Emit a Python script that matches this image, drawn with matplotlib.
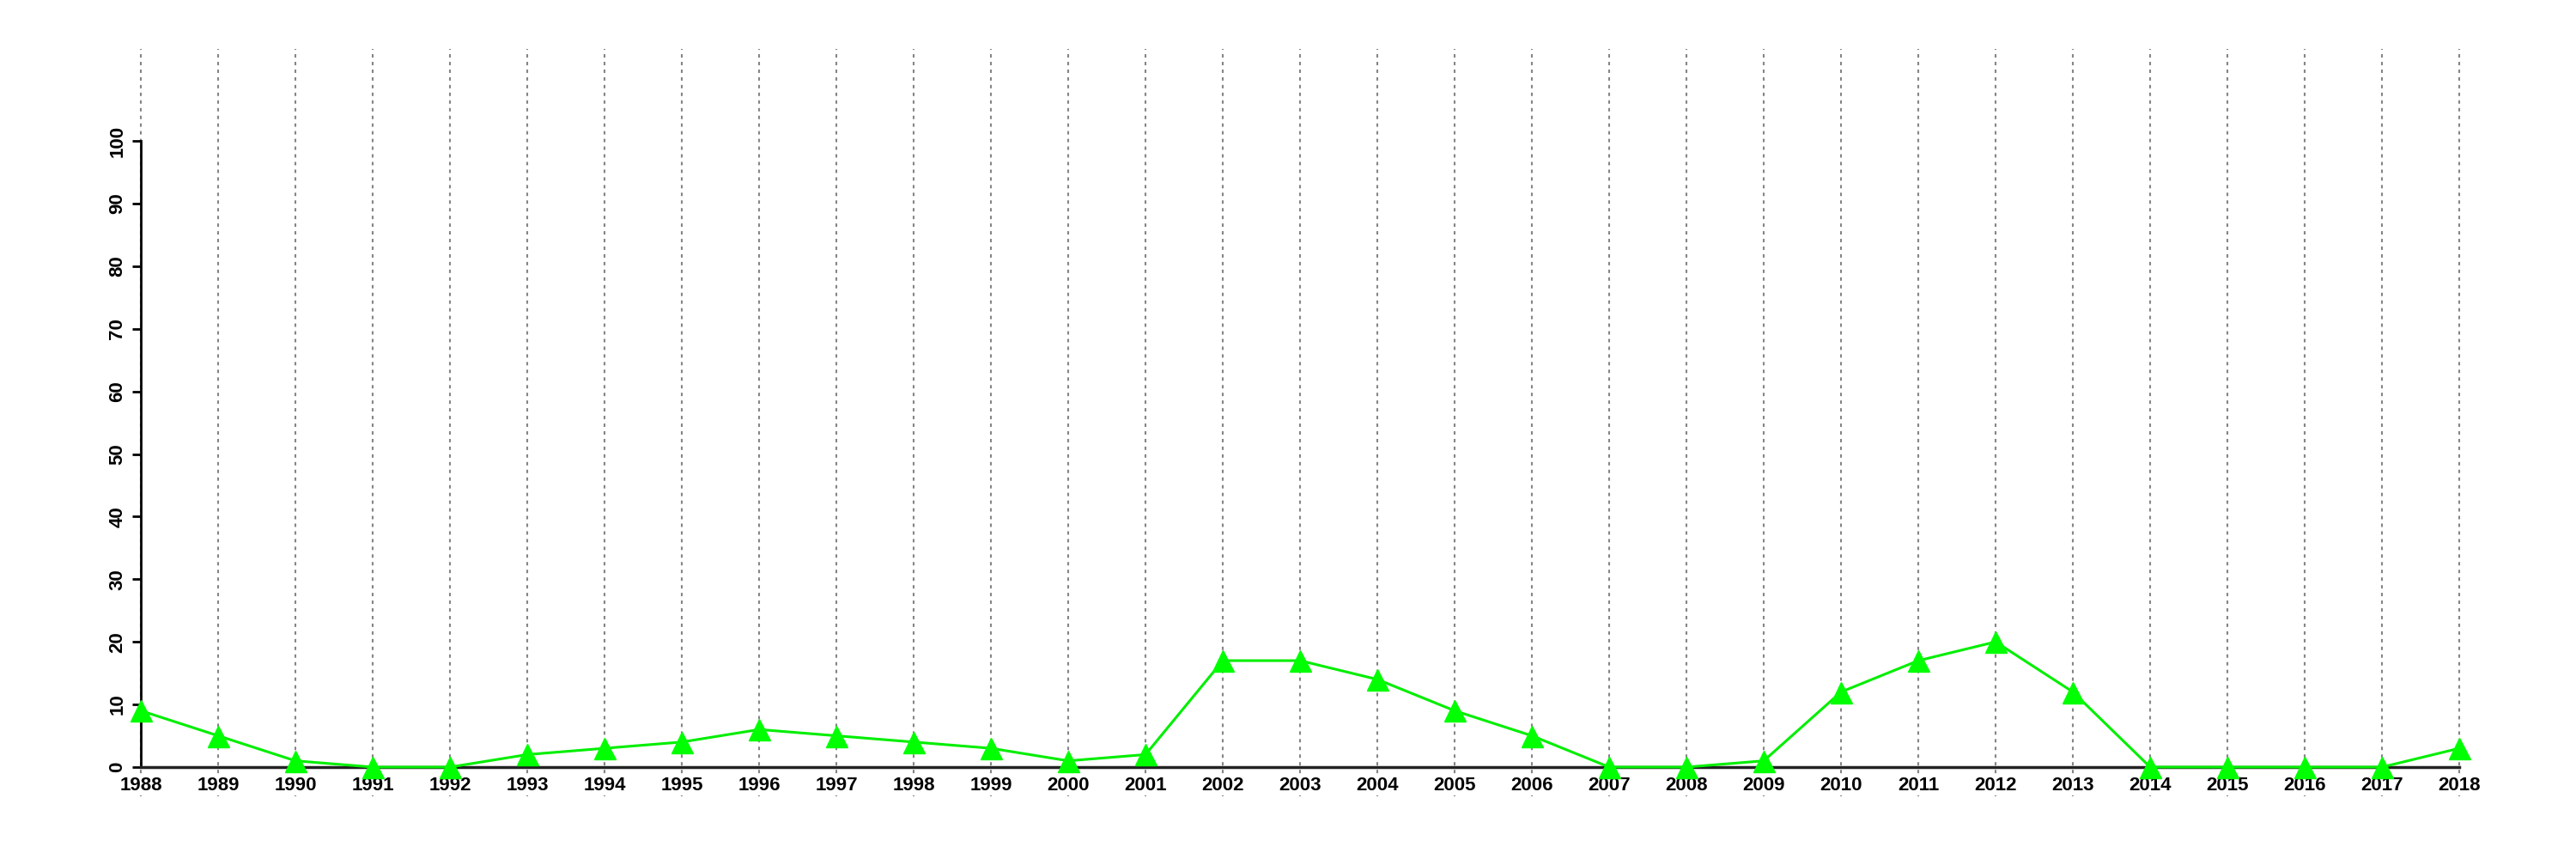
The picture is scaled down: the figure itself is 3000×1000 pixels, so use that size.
import matplotlib.pyplot as plt

years = list(range(1988, 2019))
values = [9, 5, 1, 0, 0, 2, 3, 4, 6, 5, 4, 3, 1, 2, 17, 17, 14, 9, 5, 0,
          0, 1, 12, 17, 20, 12, 0, 0, 0, 0, 3]
yticks = list(range(0, 101, 10))

plt.rcParams['font.family'] = ['Liberation Sans', 'DejaVu Sans']

fig = plt.figure(figsize=(30, 10), dpi=100)
ax = fig.add_axes([0.0547, 0.107, 0.900, 0.729])

# dashed vertical guides, running beyond the plot area
for yr in years:
    ax.axvline(yr, ymin=-0.047, ymax=1.147, color='#858585', lw=1.5,
               ls=(0, (1.9, 2.4)), clip_on=False, zorder=1)

ax.plot(years, values, color='#00ee00', lw=2.2, marker='^', markersize=18,
        markerfacecolor='#00ff00', markeredgecolor='#00ff00', zorder=3,
        clip_on=False)

ax.set_xlim(1988, 2018)
ax.set_ylim(0, 100)

for side in ['top', 'right']:
    ax.spines[side].set_visible(False)
ax.spines['left'].set_linewidth(2)
ax.spines['bottom'].set_linewidth(2.5)
ax.spines['bottom'].set_color('#222222')

ax.set_xticks(years)
ax.set_xticklabels([str(y) for y in years], fontsize=16, fontweight='bold')
ax.tick_params(axis='x', length=0, pad=8)
for lab in ax.get_xticklabels():
    lab.set_bbox(dict(facecolor='white', edgecolor='none', pad=0.5))

ax.set_yticks(yticks)
ax.set_yticklabels([str(v) for v in yticks], fontsize=16, fontweight='bold',
                   rotation=90, va='center')
ax.tick_params(axis='y', length=7, width=2, pad=5)

fig.savefig('out.png', dpi=100)
